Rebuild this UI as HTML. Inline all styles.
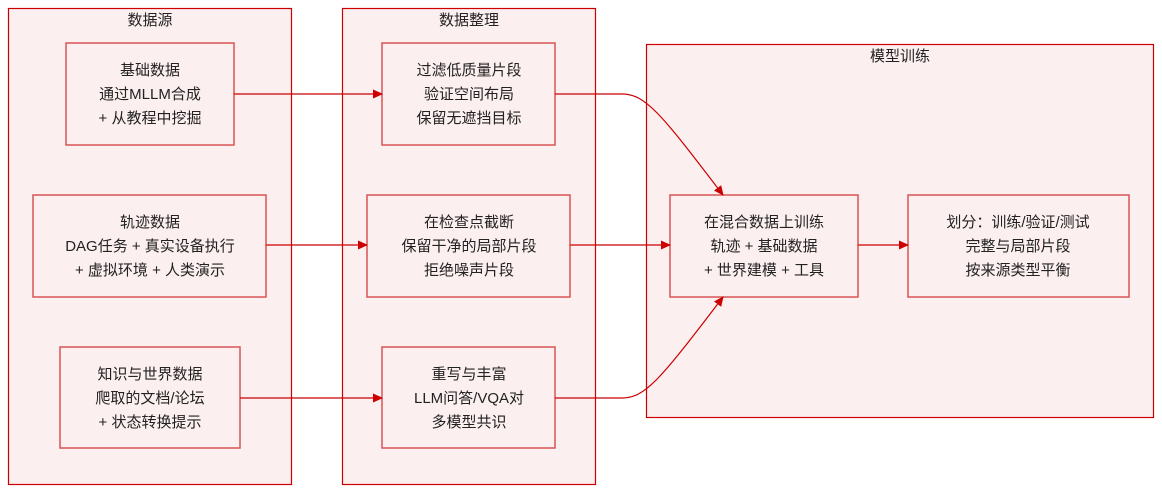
<!DOCTYPE html>
<html><head><meta charset="utf-8"><style>
html,body{margin:0;padding:0;background:#fff;width:1162px;height:492px;overflow:hidden}
text{font-family:"Liberation Sans","Noto Sans CJK SC",sans-serif;font-size:15px;fill:#222;text-anchor:middle}
</style></head><body>
<svg width="1162" height="492" viewBox="0 0 1162 492" xmlns="http://www.w3.org/2000/svg">
<defs><marker id="a" markerWidth="12" markerHeight="12" refX="9" refY="5.5" orient="auto" markerUnits="userSpaceOnUse"><path d="M0,1 L10,5.5 L0,10 z" fill="#c00"/></marker></defs>
<g fill="#fcefef" stroke="#c00" stroke-width="1.2">
<rect x="8.5" y="8.5" width="283" height="476"/>
<rect x="342.5" y="8.5" width="253" height="476"/>
<rect x="646.5" y="44.5" width="507" height="373"/>
</g>
<g fill="#fcefef" stroke="#d85555" stroke-width="1.5">
<rect x="66" y="43" width="168" height="102"/>
<rect x="33" y="195" width="233" height="102"/>
<rect x="60" y="347" width="180" height="101"/>
<rect x="382" y="43" width="173" height="102"/>
<rect x="367" y="195" width="203" height="102"/>
<rect x="382" y="347" width="173" height="101"/>
<rect x="670" y="195" width="188" height="102"/>
<rect x="908" y="195" width="221" height="102"/>
</g>
<g stroke="#c00" stroke-width="1.2" fill="none" marker-end="url(#a)">
<path d="M234,94 H382"/>
<path d="M266,245 H367"/>
<path d="M240,398 H382"/>
<path d="M570,245 H670"/>
<path d="M858,245 H908"/>
<path d="M555,94 H622 C645,94 660,112 723,195"/>
<path d="M555,398 H622 C645,398 660,380 723,297"/>
</g>
<text x="150" y="25">数据源</text>
<text x="469" y="25">数据整理</text>
<text x="900" y="61">模型训练</text>
<text x="150" y="75">基础数据</text><text x="150" y="99">通过MLLM合成</text><text x="150" y="123">+ 从教程中挖掘</text>
<text x="150" y="227">轨迹数据</text><text x="150" y="251">DAG任务 + 真实设备执行</text><text x="150" y="275">+ 虚拟环境 + 人类演示</text>
<text x="150" y="379">知识与世界数据</text><text x="150" y="403">爬取的文档/论坛</text><text x="150" y="427">+ 状态转换提示</text>
<text x="469" y="75">过滤低质量片段</text><text x="469" y="99">验证空间布局</text><text x="469" y="123">保留无遮挡目标</text>
<text x="469" y="227">在检查点截断</text><text x="469" y="251">保留干净的局部片段</text><text x="469" y="275">拒绝噪声片段</text>
<text x="469" y="379">重写与丰富</text><text x="469" y="403">LLM问答/VQA对</text><text x="469" y="427">多模型共识</text>
<text x="764" y="227">在混合数据上训练</text><text x="764" y="251">轨迹 + 基础数据</text><text x="764" y="275">+ 世界建模 + 工具</text>
<text x="1018" y="227">划分：训练/验证/测试</text><text x="1018" y="251">完整与局部片段</text><text x="1018" y="275">按来源类型平衡</text>
</svg>
</body></html>
